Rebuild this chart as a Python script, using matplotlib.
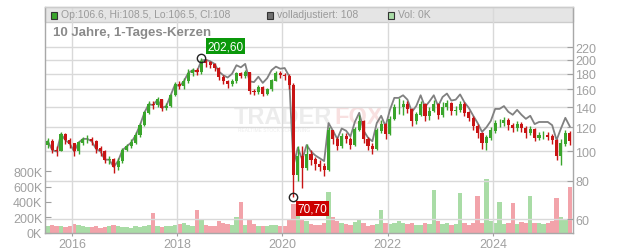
import numpy as np
import matplotlib.pyplot as plt
from matplotlib.patches import Rectangle
from matplotlib.ticker import NullLocator

plt.rcParams['font.family'] = ['Liberation Sans', 'DejaVu Sans']

# Monatskerzen Jul 2015 - Jun 2025
first_open = 105.0
close = [108, 101, 100, 114, 109, 106,
         100, 107, 110, 110, 108, 102, 100, 94, 94, 89, 93, 101,
         104, 107, 113, 122, 134, 143, 142, 148, 139, 141, 153, 166,
         164, 170, 181, 185, 182, 198, 196, 193, 188, 176, 170, 166,
         170, 181, 177, 182, 158, 157, 163, 155, 160, 171, 181, 178,
         177, 165, 84, 96, 88, 98, 94, 91, 89, 87, 117, 110,
         104, 112, 110, 105, 118, 126, 110, 104, 102, 117, 123, 114,
         128, 140, 140, 143, 138, 126, 132, 143, 131, 136, 143, 132,
         140, 144, 136, 137, 143, 134, 129, 121, 115, 107, 111, 117,
         124, 124, 127, 122, 119, 123, 119, 115, 118, 111, 113, 113,
         112, 109, 97, 106, 115, 108]
high = [111, 110, 104, 116, 115, 111,
        107, 108, 112, 113, 112, 109, 104, 101, 97, 95, 95, 103,
        106, 110, 116, 124, 136, 147, 146, 151, 149, 144, 155, 169,
        170, 174, 186, 188, 188, 202.6, 201, 198, 195, 189, 178, 172,
        173, 183, 183, 185, 183, 161, 165, 164, 162, 173, 184, 184,
        181, 180, 168, 104, 104, 106, 101, 96, 94, 92, 120, 118,
        112, 115, 115, 112, 120, 132, 127, 112, 107, 119, 127, 124,
        131, 143, 150, 148, 147, 139, 135, 147, 144, 140, 148, 144,
        145, 148, 145, 141, 147, 145, 136, 131, 123, 116, 113, 120,
        127, 128, 130, 129, 124, 126, 125, 121, 121, 119, 116, 117,
        116, 114, 110, 110, 118, 117]
low = [103, 99, 97, 100, 106, 103,
       97, 98, 105, 107, 105, 99, 97, 92, 91, 85, 87, 92,
       100, 103, 106, 112, 121, 133, 138, 140, 136, 137, 140, 152,
       160, 161, 168, 177, 178, 180, 190, 188, 184, 172, 166, 162,
       164, 168, 174, 175, 155, 153, 155, 152, 153, 158, 170, 174,
       172, 160, 70.7, 80, 76, 87, 90, 87, 86, 83, 86, 106,
       101, 103, 107, 102, 104, 117, 107, 101, 98, 101, 115, 110,
       113, 127, 133, 132, 134, 121, 123, 131, 126, 127, 135, 128,
       130, 137, 132, 132, 135, 131, 126, 118, 111, 102, 101, 109,
       115, 120, 121, 118, 116, 117, 116, 111, 113, 108, 109, 110,
       109, 106, 94, 90, 104, 105]
adjusted = [108, 101, 100, 114, 109, 106,
            100, 107, 110, 110, 108, 102, 100, 94, 94, 89, 93, 101,
            104, 107, 113, 122, 134, 143, 142, 148, 139, 141, 153, 166,
            164, 170, 181, 185, 183, 199, 200, 198, 194, 183, 178, 175,
            180, 192, 189, 194, 170, 169, 176, 168, 174, 185, 190, 187,
            188, 177, 90, 103, 94, 105, 100, 97, 95, 93, 124, 117,
            110, 119, 117, 112, 125, 134, 117, 111, 108, 124, 131, 121,
            137, 150, 150, 153, 148, 135, 141, 153, 140, 146, 153, 141,
            151, 155, 147, 148, 154, 145, 139, 131, 124, 116, 120, 126,
            138, 138, 141, 135, 132, 137, 132, 128, 131, 123, 125, 125,
            125, 122, 109, 119, 129, 121]
volume_k = [80, 95, 85, 90, 70, 85,
            110, 95, 80, 75, 70, 90, 65, 70, 80, 95, 85, 75,
            70, 65, 85, 75, 90, 95, 250, 80, 70, 85, 90, 100,
            110, 120, 95, 90, 300, 180, 100, 85, 90, 150, 120, 110,
            95, 200, 400, 100, 160, 110, 80, 90, 85, 95, 100, 80,
            90, 160, 370, 250, 180, 150, 110, 100, 95, 120, 530, 200,
            150, 130, 110, 100, 140, 170, 120, 90, 100, 110, 295, 120,
            110, 130, 150, 120, 110, 130, 100, 100, 120, 110, 550, 150,
            110, 130, 100, 110, 510, 120, 100, 120, 475, 130, 700, 150,
            120, 400, 110, 130, 390, 110, 140, 120, 475, 130, 120, 110,
            120, 150, 450, 200, 170, 600]

year_ticks = [2016, 2018, 2020, 2022, 2024]
price_ticks = [60, 80, 100, 120, 140, 160, 180, 200, 220]
vol_ticks = [0, 200, 400, 600, 800]

W, H = 632, 253
fig = plt.figure(figsize=(W / 100, H / 100), dpi=100)


def px(x, y):
    return x / W, 1 - y / H


L, R, T, B = 45, 572.5, 8, 233.5
pos = [L / W, 1 - B / H, (R - L) / W, (B - T) / H]
axv = fig.add_axes(pos)
ax = fig.add_axes(pos, facecolor='none')

n = len(close)
t = 2015.5 + (np.arange(n) + 0.5) / 12
c = np.array(close, dtype=float)
o = np.array([first_open] + close[:-1], dtype=float)
up = c >= o
col = np.where(up, '#3aa52c', '#c81414')
vcol = np.where(up, '#a9dca6', '#f2a3aa')

xlim = (2015.487, 2025.511)

# Volumen
axv.bar(t, volume_k, width=1.0 / 12, color=vcol, linewidth=0)
axv.set_xlim(*xlim)
axv.set_ylim(0, 2948)
axv.set_yticks(vol_ticks)
axv.set_yticklabels([f'{v}K' for v in vol_ticks])
axv.set_xticks([])
for s in axv.spines.values():
    s.set_visible(False)
axv.tick_params(axis='y', direction='in', length=4, color='#a0a0a0',
                labelcolor='#a0a0a0', labelsize=9, pad=2)

# Wasserzeichen
axv.text(*px(234, 118), 'TRADER', transform=fig.transFigure, fontsize=17,
         fontweight='bold', color='#ececec', va='center', ha='left')
axv.text(*px(334, 118), 'FOX', transform=fig.transFigure, fontsize=17,
         fontweight='bold', color='#f8e0e0', va='center', ha='left')
axv.text(*px(238, 131), 'REALTIME STOCK SCREENING', transform=fig.transFigure,
         fontsize=3.5, color='#ededed', va='center', ha='left')

# Kurs
ax.plot(t, adjusted, color='#808080', lw=1.3, zorder=2)
ax.vlines(t, low, high, colors=col, lw=1, zorder=3)
ax.bar(t, np.abs(c - o) + 0.3, bottom=np.minimum(c, o), width=0.7 / 12,
       color=col, linewidth=0, zorder=3)

ax.set_yscale('log')
ax.set_xlim(*xlim)
ax.set_ylim(54.18, 298.3)
ax.set_yticks(price_ticks)
ax.set_yticklabels([str(v) for v in price_ticks])
ax.yaxis.set_minor_locator(NullLocator())
ax.set_xticks(year_ticks)
ax.set_xticklabels([str(y) for y in year_ticks])
ax.yaxis.tick_right()
ax.tick_params(axis='y', which='both', direction='in', length=4,
               color='#a0a0a0', labelcolor='#a0a0a0', labelsize=9, pad=2)
ax.tick_params(axis='x', direction='out', length=2, color='#a0a0a0',
               labelcolor='#a0a0a0', labelsize=9, pad=2)
ax.set_axisbelow(True)
ax.grid(True, color='#d9d9d9', lw=1)
for name, s in ax.spines.items():
    s.set_color('#a8a8a8')
    s.set_linewidth(1)
ax.spines['top'].set_color('#cccccc')

# Kopfzeile
hdr = (B - 23) / (B - T)
ax.add_patch(Rectangle((0, hdr), 1, 1 - hdr, transform=ax.transAxes,
                       facecolor='#e5e5e5', edgecolor='#cccccc', lw=1,
                       zorder=0.3, clip_on=False))

for x0, fc in [(50.5, '#3aa52c'), (266.5, '#707070'), (387.5, '#a9dca6')]:
    fig.add_artist(Rectangle(px(x0, 19.5), 6.5 / W, 6.5 / H,
                             transform=fig.transFigure, facecolor=fc,
                             edgecolor='#333333', lw=0.8))
fig.text(*px(61, 15.5), 'Op:106.6, Hi:108.5, Lo:106.5, Cl:108', fontsize=7.5,
         color='#9a9a9a', va='center', ha='left')
fig.text(*px(277, 15.5), 'volladjustiert: 108', fontsize=7.5,
         color='#9a9a9a', va='center', ha='left')
fig.text(*px(398, 15.5), 'Vol: 0K', fontsize=7.5,
         color='#9a9a9a', va='center', ha='left')
fig.text(*px(53, 33), '10 Jahre, 1-Tages-Kerzen', fontsize=9.5,
         fontweight='bold', color='#8a8a8a', va='center', ha='left')

# Hoch / Tief
ih = int(np.argmax(high))
il = int(np.argmin(low))
ax.plot(t[ih], high[ih], 'o', ms=6, mfc='none', mec='#222222', mew=1, zorder=5)
ax.plot(t[il], low[il], 'o', ms=6, mfc='none', mec='#222222', mew=1, zorder=5)
ax.annotate('202,60', xy=(t[ih], high[ih]), xytext=(6, 12),
            textcoords='offset pixels', ha='left', va='center', color='white',
            fontsize=8.5, zorder=6,
            bbox=dict(boxstyle='square,pad=0.15', fc='#0a980a', ec='none'))
ax.annotate('70,70', xy=(t[il], low[il]), xytext=(4, -11),
            textcoords='offset pixels', ha='left', va='center', color='white',
            fontsize=8.5, zorder=6,
            bbox=dict(boxstyle='square,pad=0.15', fc='#cc0000', ec='none'))

fig.savefig('out.png', dpi=100)
